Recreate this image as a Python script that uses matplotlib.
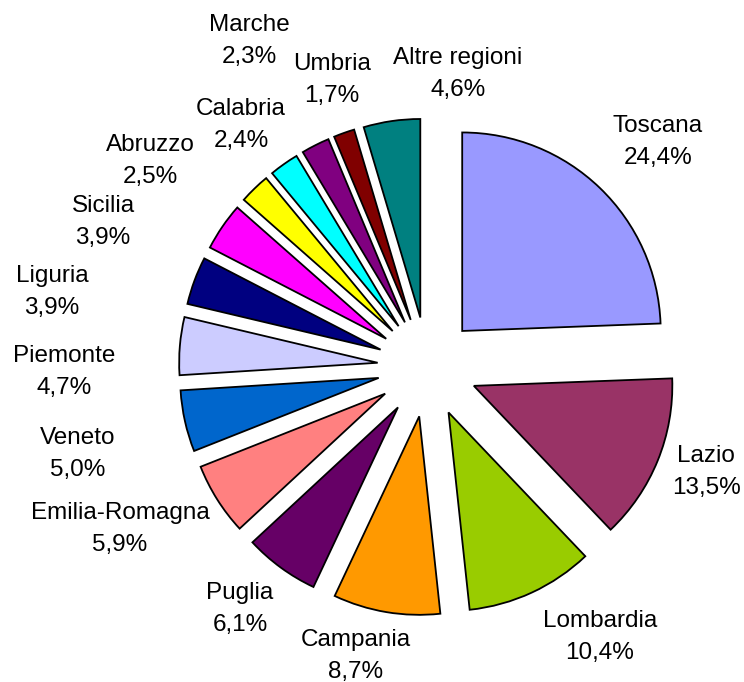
import matplotlib
matplotlib.use("Agg")
import matplotlib.pyplot as plt

plt.rcParams['font.family'] = ['Liberation Sans', 'DejaVu Sans']

regions = ["Toscana", "Lazio", "Lombardia", "Campania", "Puglia",
           "Emilia-Romagna", "Veneto", "Piemonte", "Liguria", "Sicilia",
           "Abruzzo", "Calabria", "Marche", "Umbria", "Altre regioni"]
shares = [24.4, 13.5, 10.4, 8.7, 6.1, 5.9, 5.0, 4.7, 3.9, 3.9,
          2.5, 2.4, 2.3, 1.7, 4.6]

colors = ["#9999FF", "#993366", "#99CC00", "#FF9900", "#660066",
          "#FF8080", "#0066CC", "#CCCCFF", "#000080", "#FF00FF",
          "#FFFF00", "#00FFFF", "#800080", "#800000", "#008080"]

# label centres in figure pixels (x from left, y from top)
label_px = [(658, 142), (706, 472), (600, 637), (356, 656), (240, 609),
            (120, 529), (78, 454), (64, 372), (52, 292), (103, 222),
            (150, 161), (241, 125), (249, 41), (332, 80), (458, 74)]

W, H = 744, 682
cx, cy, R = 427.5, 367.0, 198.5   # pie centre / radius in pixels

fig = plt.figure(figsize=(W / 100, H / 100), dpi=100)
ax = fig.add_axes([0, 0, 1, 1])

ax.pie(shares, colors=colors, startangle=90, counterclock=False,
       explode=[0.252] * len(shares), radius=1.0,
       wedgeprops=dict(edgecolor="black", linewidth=1.3, joinstyle="miter"))
ax.set_xlim(-cx / R, (W - cx) / R)
ax.set_ylim(-(H - cy) / R, cy / R)
ax.set_aspect("equal")
ax.axis("off")

for name, v, (px, py) in zip(regions, shares, label_px):
    txt = f"{name}\n{v:.1f}".replace(".", ",") + "%"
    fig.text(px / W, 1 - py / H, txt, ha="center", va="center",
             multialignment="center", fontsize=17.5, linespacing=1.55,
             color="black")

fig.savefig("out.png", dpi=100)
